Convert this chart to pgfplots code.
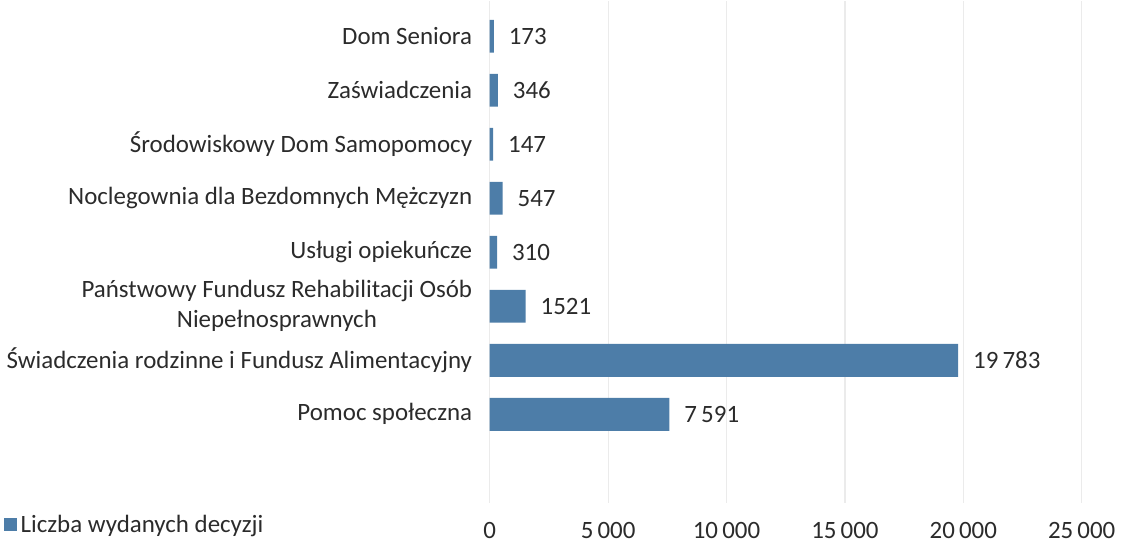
\documentclass[border=0pt]{standalone}
\usepackage{pgfplots}
\pgfplotsset{compat=1.18}
\usepackage{fontspec}
\setmainfont{Carlito}
\definecolor{barblue}{HTML}{4D7DA8}
\definecolor{txt}{HTML}{2B2B2B}
\begin{document}
\begin{tikzpicture}
\begin{axis}[
  xbar,
  scale only axis,
  width=297pt, height=252pt,
  xmin=0, xmax=25000,
  ymin=-1.64, ymax=7.66,
  bar width=16.5pt,
  axis line style={draw=none},
  tick style={draw=none},
  scaled x ticks=false,
  xmajorgrids, grid style={gray!16, line width=0.6pt},
  xtick={0,5000,10000,15000,20000,25000},
  xticklabels={0,5\,000,10\,000,15\,000,20\,000,25\,000},
  ytick={0,1,2,3,4,5,6,7},
  yticklabels={Pomoc społeczna,Świadczenia rodzinne i Fundusz Alimentacyjny,{Państwowy Fundusz Rehabilitacji Osób\\Niepełnosprawnych},Usługi opiekuńcze,Noclegownia dla Bezdomnych Mężczyzn,Środowiskowy Dom Samopomocy,Zaświadczenia,Dom Seniora},
  yticklabel style={align=center, font=\fontsize{12.5}{15}\selectfont, text=txt, xshift=-1pt},
  xticklabel style={font=\fontsize{12.5}{15}\selectfont, text=txt, yshift=-6pt},
  /pgf/number format/assume math mode=true,
  nodes near coords,
  point meta=explicit symbolic,
  every node near coord/.append style={font=\fontsize{12.5}{15}\selectfont, text=txt, anchor=west, xshift=4pt},
  legend style={at={(0,0)}, anchor=north west, xshift=-244pt, yshift=-4pt, draw=none, fill=none, font=\fontsize{12.5}{15}\selectfont, text=txt, inner sep=0pt},
  legend image code/.code={\fill[barblue] (0pt,-3pt) rectangle (6.5pt,3.5pt);},
]
\addplot[fill=barblue, draw=none] coordinates {
  (7591,0) [7\,591]
  (19783,1) [19\,783]
  (1521,2) [1521]
  (310,3) [310]
  (547,4) [547]
  (147,5) [147]
  (346,6) [346]
  (173,7) [173]
};
\addlegendentry{Liczba wydanych decyzji}
\end{axis}
\end{tikzpicture}
\end{document}
